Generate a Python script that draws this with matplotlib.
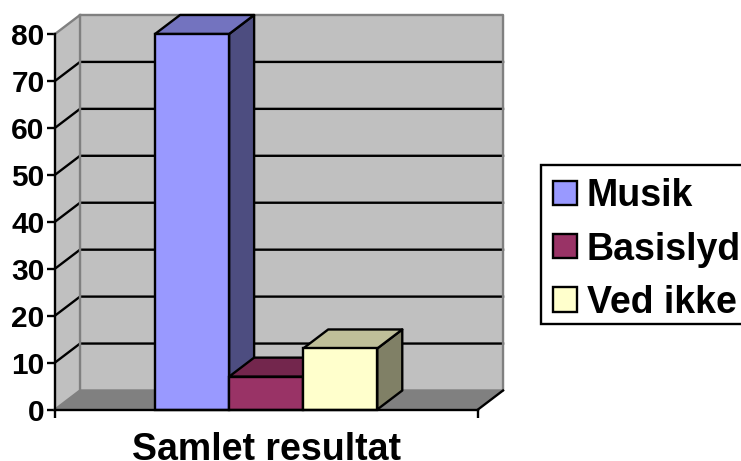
import matplotlib
matplotlib.use('Agg')
from matplotlib import pyplot as plt
from matplotlib.patches import Patch, Rectangle

series = ['Musik', 'Basislyd', 'Ved ikke']
values = [80, 7, 13]
front_colors = ['#9999FF', '#993366', '#FFFFCC']
top_colors = ['#7373BF', '#73264D', '#BFBF99']
side_colors = ['#4D4D80', '#4D1A33', '#808066']
y_ticks = [0, 10, 20, 30, 40, 50, 60, 70, 80]
category = 'Samlet resultat'

plt.rcParams['font.family'] = ['Liberation Sans']
plt.rcParams['font.weight'] = 'bold'

W, H = 741, 461
fig = plt.figure(figsize=(W / 100, H / 100), dpi=100)
ax = fig.add_axes([55 / W, 1 - 409.5 / H, 423 / W, 375.5 / H])
ax.patch.set_visible(False)

x0, x1 = -1.85, 3.86
ax.set_xlim(x0, x1)
ax.set_ylim(0, 80)

# depth of the fake 3d box, in data units
dx = 25 / 74
dy = 19 / 4.69
lw = 1.7

# walls and floor
ax.fill([x0, x0 + dx, x0 + dx, x0], [0, dy, 80 + dy, 80], fc='#C0C0C0', ec='none', clip_on=False, zorder=1)
ax.fill([x0 + dx, x1 + dx, x1 + dx, x0 + dx], [dy, dy, 80 + dy, 80 + dy], fc='#C0C0C0', ec='none', clip_on=False, zorder=1)
ax.fill([x0, x1, x1 + dx, x0 + dx], [0, 0, dy, dy], fc='#808080', ec='none', clip_on=False, zorder=1)

for v in y_ticks[1:-1]:
    ax.plot([x0, x0 + dx, x1 + dx], [v, v + dy, v + dy], color='black', lw=lw, clip_on=False, zorder=2)

ax.plot([x0, x0 + dx, x1 + dx, x1 + dx, x0 + dx, x0 + dx], [80, 80 + dy, 80 + dy, dy, dy, 80 + dy],
        color='#808080', lw=lw, clip_on=False, zorder=2)
ax.plot([x0, x0 + dx], [0, dy], color='#808080', lw=lw, clip_on=False, zorder=2)
ax.plot([x1, x1 + dx], [0, dy], color='black', lw=lw, clip_on=False, zorder=2)

# bars
for i, v in enumerate(values):
    z = 3 + i
    l, r = i - 0.5, i + 0.5
    ax.fill([r, r + dx, r + dx, r], [0, dy, v + dy, v], fc=side_colors[i], ec='black', lw=lw, clip_on=False,
            joinstyle='round', zorder=z)
    ax.fill([l, r, r + dx, l + dx], [v, v, v + dy, v + dy], fc=top_colors[i], ec='black', lw=lw, clip_on=False,
            joinstyle='round', zorder=z)
    ax.bar(i, v, width=1, color=front_colors[i], edgecolor='black', linewidth=lw, clip_on=False, zorder=z)

for s in ['top', 'right']:
    ax.spines[s].set_visible(False)
for s in ['left', 'bottom']:
    ax.spines[s].set_linewidth(lw)
    ax.spines[s].set_zorder(10)

ax.set_yticks(y_ticks)
ax.set_xticks([x0, x1])
ax.set_xticklabels([])
ax.tick_params(axis='both', length=5.5, width=lw)
ax.tick_params(axis='y', labelsize=21.5, pad=2)
ax.set_xlabel(category, fontsize=27, fontweight='bold', labelpad=7)

# legend box drawn apart, the automatic frame comes out too tall
fig.add_artist(Rectangle((541 / W, 1 - 324 / H), 210 / W, 159 / H, transform=fig.transFigure,
                         fc='white', ec='black', lw=lw))
handles = [Patch(facecolor=c, edgecolor='black', linewidth=lw, label=s) for c, s in zip(front_colors, series)]
leg = fig.legend(handles=handles, loc='upper left', bbox_to_anchor=(542 / W, 1 - 167 / H), bbox_transform=fig.transFigure,
                 fontsize=27, frameon=False, borderaxespad=0,
                 handlelength=0.62, handleheight=0.62, handletextpad=0.27, labelspacing=0.46, borderpad=0.3)

fig.savefig('out.png', dpi=100)
